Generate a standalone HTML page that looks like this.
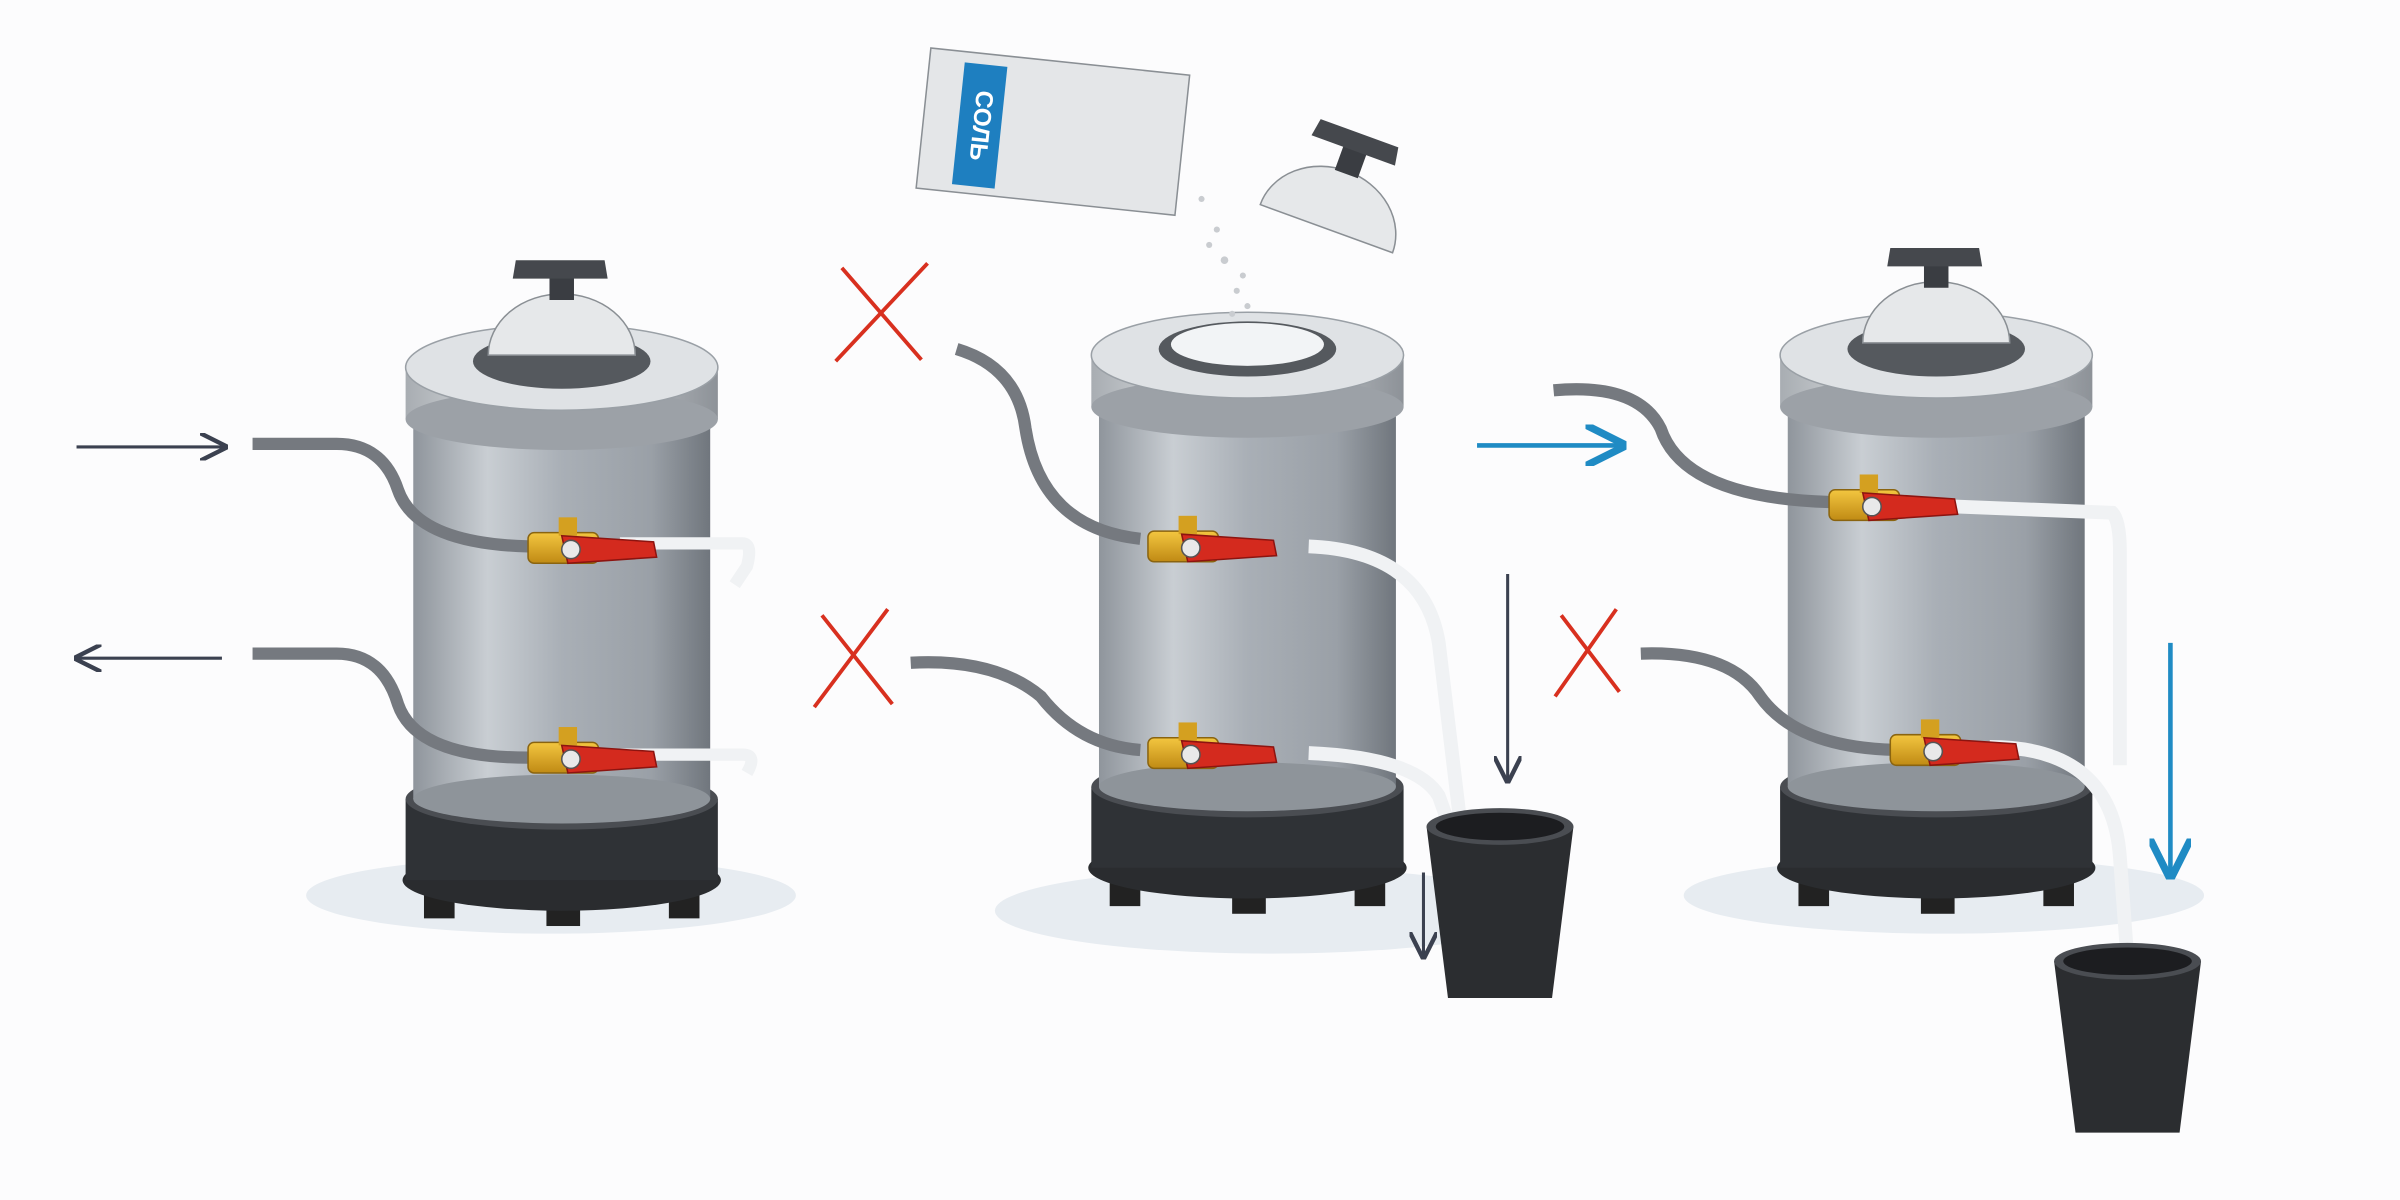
<!DOCTYPE html>
<html><head><meta charset="utf-8"><style>
html,body{margin:0;padding:0;background:#fcfcfd;}
svg{display:block;}
</style></head><body>
<svg width="2400" height="1200" viewBox="0 0 1568 784" xmlns="http://www.w3.org/2000/svg">
<defs>
<linearGradient id="steel" x1="0" x2="1" y1="0" y2="0">
<stop offset="0" stop-color="#8f959c"/><stop offset="0.25" stop-color="#c9ced3"/><stop offset="0.5" stop-color="#a9afb6"/><stop offset="0.8" stop-color="#9aa0a7"/><stop offset="1" stop-color="#70767d"/>
</linearGradient>
<linearGradient id="cap" x1="0" x2="1"><stop offset="0" stop-color="#a8adb2"/><stop offset="0.4" stop-color="#e8eaec"/><stop offset="1" stop-color="#8d9298"/></linearGradient>
<linearGradient id="brass" x1="0" x2="0" y1="0" y2="1"><stop offset="0" stop-color="#f3c640"/><stop offset="1" stop-color="#c08a14"/></linearGradient>
<g id="valve">
<rect x="-30" y="-10" width="46" height="20" rx="4" fill="url(#brass)" stroke="#8a6410" stroke-width="1"/>
<rect x="-10" y="-20" width="12" height="12" fill="#d4a020"/>
<path d="M-8 -8 L52 -4 L54 6 L-4 10 Z" fill="#d42a1e" stroke="#8c1410" stroke-width="1"/>
<circle cx="-2" cy="1" r="6" fill="#e9e9e9" stroke="#555"/>
</g>
<g id="tank">
<rect x="-90" y="340" width="20" height="30" fill="#222"/><rect x="-10" y="345" width="22" height="30" fill="#222"/><rect x="70" y="340" width="20" height="30" fill="#222"/>
<ellipse cx="0" cy="345" rx="104" ry="20" fill="#2a2c2f"/>
<rect x="-102" y="292" width="204" height="53" fill="#2f3236"/>
<ellipse cx="0" cy="292" rx="102" ry="20" fill="#4a4d52"/>
<rect x="-97" y="40" width="194" height="252" fill="url(#steel)"/>
<ellipse cx="0" cy="292" rx="97" ry="16" fill="#8e949a"/>
<rect x="-102" y="10" width="204" height="34" fill="url(#cap)"/>
<ellipse cx="0" cy="44" rx="102" ry="20" fill="#9ca1a7"/>
<ellipse cx="0" cy="10" rx="102" ry="28" fill="#dfe2e5" stroke="#9aa0a6"/>
<ellipse cx="0" cy="6" rx="58" ry="18" fill="#55595e"/>
</g>
<g id="dome">
<path d="M-48 0 A48 40 0 0 1 48 0 Z" fill="#e6e8ea" stroke="#8a8f94"/>
<rect x="-8" y="-58" width="16" height="22" fill="#3a3d42"/>
<path d="M-30 -62 L28 -62 L30 -50 L-32 -50 Z" fill="#45484d"/>
</g>
<g id="cup">
<path d="M-48 0 L48 0 L34 112 L-34 112 Z" fill="#2b2d30"/>
<ellipse cx="0" cy="0" rx="48" ry="12" fill="#4a4d52"/>
<ellipse cx="0" cy="0" rx="42" ry="9" fill="#1c1d20"/>
</g>
<marker id="ad" viewBox="0 0 10 10" refX="9" refY="5" markerWidth="9" markerHeight="9" orient="auto"><path d="M0 0 L10 5 L0 10" fill="none" stroke="#3b4150" stroke-width="1.6"/></marker>
<marker id="ab" viewBox="0 0 10 10" refX="9" refY="5" markerWidth="9" markerHeight="9" orient="auto"><path d="M0 0 L10 5 L0 10" fill="none" stroke="#1f8bc4" stroke-width="1.8"/></marker>
</defs>
<rect width="1568" height="784" fill="#fcfcfd"/>
<ellipse cx="360" cy="585" rx="160" ry="25" fill="#e7ecf1"/>
<ellipse cx="830" cy="595" rx="180" ry="28" fill="#e7ecf1"/>
<ellipse cx="1270" cy="585" rx="170" ry="25" fill="#e7ecf1"/>

<!-- Tank 1 -->
<g transform="translate(367,230)"><use href="#tank"/></g>
<g transform="translate(367,232)"><use href="#dome"/></g>
<path d="M165 290 L220 290 Q250 290 260 320 Q272 355 345 357" fill="none" stroke="#75797f" stroke-width="8"/>
<path d="M165 427 L220 427 Q250 427 260 460 Q272 495 345 495" fill="none" stroke="#75797f" stroke-width="8"/>
<path d="M405 355 L485 355 Q492 355 488 370 L480 382" fill="none" stroke="#f0f2f4" stroke-width="8"/>
<path d="M405 493 L485 493 Q495 493 488 505" fill="none" stroke="#f0f2f4" stroke-width="8"/>
<g transform="translate(375,358)"><use href="#valve"/></g>
<g transform="translate(375,495)"><use href="#valve"/></g>

<!-- Tank 2 -->
<g transform="translate(815,222)"><use href="#tank"/></g>
<ellipse cx="815" cy="225" rx="50" ry="14" fill="#f2f4f6"/>
<path d="M625 228 Q665 240 670 280 Q680 345 745 352" fill="none" stroke="#75797f" stroke-width="8"/>
<path d="M595 433 Q650 430 680 455 Q705 487 745 490" fill="none" stroke="#75797f" stroke-width="8"/>
<path d="M855 357 Q930 360 940 420 L955 545" fill="none" stroke="#f0f2f4" stroke-width="9"/>
<path d="M855 492 Q925 495 940 520 L950 548" fill="none" stroke="#f0f2f4" stroke-width="9"/>
<g transform="translate(780,357)"><use href="#valve"/></g>
<g transform="translate(780,492)"><use href="#valve"/></g>
<g transform="translate(980,540)"><use href="#cup"/></g>

<!-- salt box & lid -->
<g transform="translate(688,85) rotate(6)">
<rect x="-85" y="-45" width="170" height="92" fill="#e4e6e8" stroke="#8a8f94"/>
<rect x="-62" y="-38" width="28" height="80" fill="#1e7fc0"/>
<text x="0" y="0" transform="translate(-48,2) rotate(90)" text-anchor="middle" dominant-baseline="middle" font-family="Liberation Sans, sans-serif" font-weight="bold" font-size="16" fill="#fff">СОЛЬ</text>
</g>
<g fill="#c9ccd0"><circle cx="785" cy="130" r="2"/><circle cx="795" cy="150" r="2"/><circle cx="800" cy="170" r="2.5"/><circle cx="808" cy="190" r="2"/><circle cx="790" cy="160" r="2"/><circle cx="812" cy="180" r="2"/><circle cx="805" cy="205" r="2"/><circle cx="815" cy="200" r="2"/></g>
<g transform="translate(870,140) rotate(20)">
<path d="M-46 10 A46 40 0 0 1 46 10 Z" fill="#e6e8ea" stroke="#8a8f94"/>
<rect x="-8" y="-50" width="16" height="22" fill="#3a3d42"/>
<path d="M-28 -56 L26 -56 L28 -44 L-30 -44 Z" fill="#45484d"/>
</g>

<!-- Tank 3 -->
<g transform="translate(1265,222)"><use href="#tank"/></g>
<g transform="translate(1265,224)"><use href="#dome"/></g>
<path d="M1015 255 Q1070 250 1085 280 Q1100 325 1195 328" fill="none" stroke="#75797f" stroke-width="8"/>
<path d="M1072 427 Q1130 425 1150 455 Q1175 490 1245 490" fill="none" stroke="#75797f" stroke-width="8"/>
<path d="M1255 330 L1380 335 Q1385 340 1385 360 L1385 500" fill="none" stroke="#f0f2f4" stroke-width="9"/>
<path d="M1300 488 Q1380 488 1385 560 L1390 628" fill="none" stroke="#f0f2f4" stroke-width="9"/>
<g transform="translate(1225,330)"><use href="#valve"/></g>
<g transform="translate(1265,490)"><use href="#valve"/></g>
<g transform="translate(1390,628)"><use href="#cup"/></g>

<!-- arrows -->
<line x1="50" y1="292" x2="147" y2="292" stroke="#3b4150" stroke-width="2" marker-end="url(#ad)"/>
<line x1="145" y1="430" x2="50" y2="430" stroke="#3b4150" stroke-width="2" marker-end="url(#ad)"/>
<line x1="985" y1="375" x2="985" y2="510" stroke="#3b4150" stroke-width="2" marker-end="url(#ad)"/>
<line x1="930" y1="570" x2="930" y2="625" stroke="#3b4150" stroke-width="2" marker-end="url(#ad)"/>
<line x1="965" y1="291" x2="1060" y2="291" stroke="#1f8bc4" stroke-width="3" marker-end="url(#ab)"/>
<line x1="1418" y1="420" x2="1418" y2="572" stroke="#1f8bc4" stroke-width="3" marker-end="url(#ab)"/>

<!-- red X -->
<g stroke="#d8301f" stroke-width="2.5" fill="none">
<path d="M550 175 L602 235 M606 172 L546 236"/>
<path d="M537 402 L583 460 M580 398 L532 462"/>
<path d="M1020 402 L1058 452 M1056 398 L1016 455"/>
</g>
</svg>
</body></html>
